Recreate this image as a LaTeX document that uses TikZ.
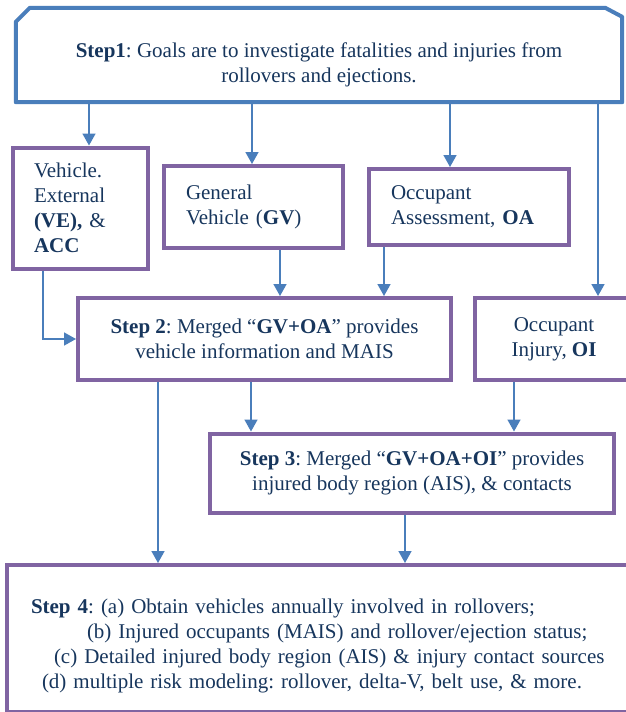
\documentclass[tikz,border=0pt]{standalone}
\usepackage{fontspec}
\setmainfont{Liberation Serif}
\usetikzlibrary{arrows.meta}
\definecolor{boxblue}{RGB}{74,126,187}
\definecolor{boxpurple}{RGB}{128,100,162}
\definecolor{textnavy}{RGB}{23,54,93}

\begin{document}
\frenchspacing
\begin{tikzpicture}[x=1pt,y=-1pt,
	stepfont/.style={text=textnavy,font=\fontsize{21}{25}\selectfont},
	purplebox/.style={stepfont,draw=boxpurple,line width=4pt,fill=white},
	link/.style={boxblue,line width=1.6pt,-{Triangle[length=12pt,width=13pt]}}]
		\useasboundingbox (0,0) rectangle (626,712);
		\clip (0,0) rectangle (626,712);
		\fill[white] (0,0) rectangle (626,712);
		
		% step 1 with its cut corners
		\node[stepfont,align=center,minimum width=606pt,minimum height=74pt] (step1) at (319,65)
			{\textbf{Step1}: Goals are to investigate fatalities and injuries from\\rollovers and ejections.};
		\draw[boxblue,line width=4pt,line join=round] (step1.south west) -- ([yshift=6pt]step1.north west)
			-- ([xshift=14pt,yshift=20pt]step1.north west) -- ([xshift=-17pt,yshift=20pt]step1.north east)
			-- ([yshift=11pt]step1.north east) -- (step1.south east) -- cycle;
		
		\node[purplebox,align=left,text width=93pt,inner xsep=21pt,minimum height=121pt] (ve) at (80.5,208)
			{Vehicle.\\External\\\textbf{(VE),} \&\\\textbf{ACC}};
		\node[purplebox,align=left,text width=135pt,inner xsep=22pt,minimum height=82pt] (gv) at (253.5,207)
			{General\\Vehicle (\textbf{GV})};
		\node[purplebox,align=left,text width=156pt,inner xsep=22pt,minimum height=76pt] (oa) at (469,207)
			{Occupant\\Assessment, \textbf{OA}};
		\node[purplebox,align=center,minimum width=373pt,minimum height=82pt] (step2) at (264.5,339)
			{\textbf{Step 2}: Merged “\textbf{GV+OA}” provides\\vehicle information and MAIS};
		\node[purplebox,align=center,minimum width=158pt,minimum height=82pt] (oi) at (554,339)
			{Occupant\\Injury, \textbf{OI}};
		\node[purplebox,align=center,minimum width=404pt,minimum height=79pt] (step3) at (412,473)
			{\textbf{Step 3}: Merged “\textbf{GV+OA+OI}” provides\\injured body region (AIS), \& contacts};
		\node[purplebox,align=left,text width=585pt,inner xsep=24pt,minimum height=147pt] (step4) at (323.5,638.5)
			{\rule{0pt}{30pt}\textbf{Step 4}: (a) Obtain vehicles annually involved in rollovers;\\
			\hspace*{56pt}(b) Injured occupants (MAIS) and rollover/ejection status;\\
			\hspace*{23pt}(c) Detailed injured body region (AIS) \& injury contact sources\\
			\hspace*{11pt}(d) multiple risk modeling: rollover, delta-V, belt use, \& more.};
		
		\coordinate (veIn) at ([xshift=8.5pt]ve.north);
		\coordinate (gvIn) at ([xshift=-1.5pt]gv.north);
		\coordinate (oaIn) at ([xshift=-19pt]oa.north);
		\coordinate (oiIn) at ([xshift=44pt]oi.north);
		\draw[link] (veIn |- step1.south) -- (veIn);
		\draw[link] (gvIn |- step1.south) -- (gvIn);
		\draw[link] (oaIn |- step1.south) -- (oaIn);
		\draw[link] (oiIn |- step1.south) -- (oiIn);
		
		\coordinate (veOut) at ([xshift=-37.5pt]ve.south);
		\coordinate (gvOut) at ([xshift=26.5pt]gv.south);
		\coordinate (oaOut) at ([xshift=-85pt]oa.south);
		\draw[link] (veOut) |- (step2.west);
		\draw[link] (gvOut) -- (gvOut |- step2.north);
		\draw[link] (oaOut) -- (oaOut |- step2.north);
		
		\coordinate (s2Out) at ([xshift=-13.5pt]step2.south);
		\coordinate (oiOut) at ([xshift=-40pt]oi.south);
		\draw[link] (s2Out) -- (s2Out |- step3.north);
		\draw[link] (oiOut) -- (oiOut |- step3.north);
		
		\coordinate (s2Down) at ([xshift=-106.5pt]step2.south);
		\coordinate (s3Out) at ([xshift=-7pt]step3.south);
		\draw[link] (s2Down) -- (s2Down |- step4.north);
		\draw[link] (s3Out) -- (s3Out |- step4.north);
\end{tikzpicture}
\end{document}
